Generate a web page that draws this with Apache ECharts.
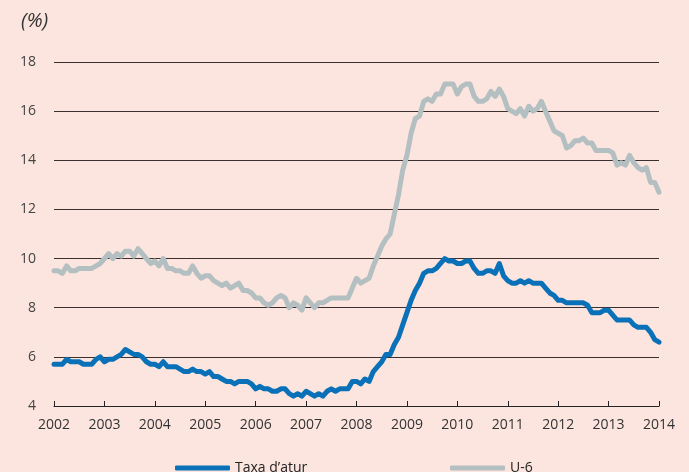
<!DOCTYPE html>
<html>
<head>
<meta charset="utf-8">
<script src="https://cdn.jsdelivr.net/npm/echarts@6/dist/echarts.min.js"></script>
<style>
html,body{margin:0;padding:0;background:#fbe5de;}
#c{width:689px;height:472px;}
</style>
</head>
<body>
<div id="c"></div>
<script>
const startYear = 2002;
const yearTicks = ['2002','2003','2004','2005','2006','2007','2008','2009','2010','2011','2012','2013','2014'];
// Monthly values, Jan 2002 .. Jan 2014
const taxaAtur = [
 5.7,5.7,5.7,5.9,5.8,5.8,5.8,5.7,5.7,5.7,5.9,6.0,
 5.8,5.9,5.9,6.0,6.1,6.3,6.2,6.1,6.1,6.0,5.8,5.7,
 5.7,5.6,5.8,5.6,5.6,5.6,5.5,5.4,5.4,5.5,5.4,5.4,
 5.3,5.4,5.2,5.2,5.1,5.0,5.0,4.9,5.0,5.0,5.0,4.9,
 4.7,4.8,4.7,4.7,4.6,4.6,4.7,4.7,4.5,4.4,4.5,4.4,
 4.6,4.5,4.4,4.5,4.4,4.6,4.7,4.6,4.7,4.7,4.7,5.0,
 5.0,4.9,5.1,5.0,5.4,5.6,5.8,6.1,6.1,6.5,6.8,7.3,
 7.8,8.3,8.7,9.0,9.4,9.5,9.5,9.6,9.8,10.0,9.9,9.9,
 9.8,9.8,9.9,9.9,9.6,9.4,9.4,9.5,9.5,9.4,9.8,9.3,
 9.1,9.0,9.0,9.1,9.0,9.1,9.0,9.0,9.0,8.8,8.6,8.5,
 8.3,8.3,8.2,8.2,8.2,8.2,8.2,8.1,7.8,7.8,7.8,7.9,
 7.9,7.7,7.5,7.5,7.5,7.5,7.3,7.2,7.2,7.2,7.0,6.7,
 6.6
];
const u6 = [
 9.5,9.5,9.4,9.7,9.5,9.5,9.6,9.6,9.6,9.6,9.7,9.8,
 10.0,10.2,10.0,10.2,10.1,10.3,10.3,10.1,10.4,10.2,10.0,9.8,
 9.9,9.7,10.0,9.6,9.6,9.5,9.5,9.4,9.4,9.7,9.4,9.2,
 9.3,9.3,9.1,9.0,8.9,9.0,8.8,8.9,9.0,8.7,8.7,8.6,
 8.4,8.4,8.2,8.1,8.2,8.4,8.5,8.4,8.0,8.2,8.1,7.9,
 8.4,8.2,8.0,8.2,8.2,8.3,8.4,8.4,8.4,8.4,8.4,8.8,
 9.2,9.0,9.1,9.2,9.7,10.1,10.5,10.8,11.0,11.8,12.6,13.6,
 14.2,15.1,15.7,15.8,16.4,16.5,16.4,16.7,16.7,17.1,17.1,17.1,
 16.7,17.0,17.1,17.1,16.6,16.4,16.4,16.5,16.8,16.6,16.9,16.6,
 16.1,16.0,15.9,16.1,15.8,16.2,16.0,16.1,16.4,16.0,15.6,15.2,
 15.1,15.0,14.5,14.6,14.8,14.8,14.9,14.7,14.7,14.4,14.4,14.4,
 14.4,14.3,13.8,13.9,13.8,14.2,13.9,13.7,13.6,13.7,13.1,13.1,
 12.7
];
const toXY = arr => arr.map((v,i)=>[startYear + i/12, v]);
const chart = echarts.init(document.getElementById('c'));
const font = 'Open Sans';
chart.setOption({
  backgroundColor:'#fbe5de',
  animation:false,
  textStyle:{fontFamily:font},
  title:{text:'(%)',left:16,top:6,textStyle:{fontFamily:font,fontSize:20,fontStyle:'italic',fontWeight:'normal',color:'#333'}},
  grid:{left:54,right:30,top:62,bottom:66},
  xAxis:{
    type:'value',min:2002,max:2014,interval:1,
    axisLine:{show:true,lineStyle:{color:'#222',width:1.2}},
    axisTick:{show:true,inside:true,length:5,lineStyle:{color:'#222'}},
    axisLabel:{color:'#333',fontSize:14,margin:12,formatter:v=>yearTicks[Math.round(v-2002)]},
    splitLine:{show:false}
  },
  yAxis:{
    type:'value',min:4,max:18,interval:2,
    axisLine:{show:false},axisTick:{show:false},
    axisLabel:{color:'#444',fontSize:14,margin:18},
    splitLine:{show:true,lineStyle:{color:'#3a3030',width:1.2}}
  },
  legend:[
    {left:170,top:456,itemWidth:55,itemHeight:5,icon:'roundRect',data:['Taxa d\u2019atur'],textStyle:{fontSize:14,color:'#222',fontFamily:font}},
    {left:445,top:456,itemWidth:55,itemHeight:5,icon:'roundRect',data:['U-6'],textStyle:{fontSize:14,color:'#222',fontFamily:font}}
  ],
  series:[
    {name:'U-6',type:'line',data:toXY(u6),showSymbol:false,symbol:'none',lineStyle:{color:'#b3bfc1',width:5,join:'round',cap:'round'},itemStyle:{color:'#b3bfc1'}},
    {name:'Taxa d\u2019atur',type:'line',data:toXY(taxaAtur),showSymbol:false,symbol:'none',lineStyle:{color:'#0a71b8',width:5,join:'round',cap:'round'},itemStyle:{color:'#0a71b8'}}
  ]
});
</script>
</body>
</html>
